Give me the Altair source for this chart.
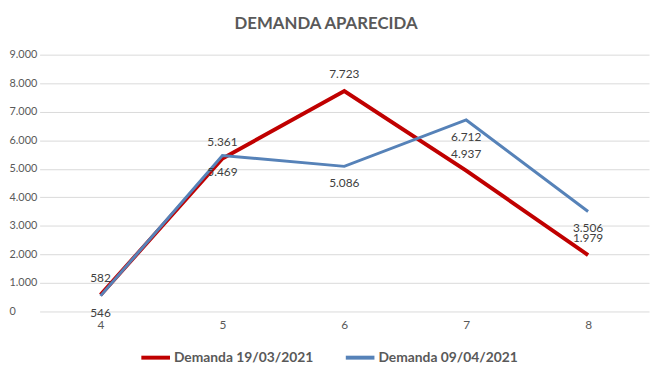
import altair as alt
import pandas as pd

categories = ["4", "5", "6", "7", "8"]
series_names = ["Demanda 19/03/2021", "Demanda 09/04/2021"]
red_values = [582, 5361, 7723, 4937, 1979]
blue_values = [546, 5469, 5086, 6712, 3506]
y_ticks = [0, 1000, 2000, 3000, 4000, 5000, 6000, 7000, 8000, 9000]
title_text = "DEMANDA APARECIDA"

FONT = "Lato"
GREY = "#595959"
RED = "#C00000"
BLUE = "#5682B8"

rows = []
for name, vals in zip(series_names, [red_values, blue_values]):
    for c, v in zip(categories, vals):
        rows.append({"cat": c, "val": v, "serie": name,
                     "lab": f"{v:,}".replace(",", ".")})
df = pd.DataFrame(rows)

x_enc = alt.X("cat:N", sort=categories, title=None,
              scale=alt.Scale(paddingInner=0, paddingOuter=0, align=0.5),
              axis=alt.Axis(labelAngle=0, ticks=False, domain=False, grid=False,
                            labelColor=GREY, labelFont=FONT, labelFontSize=12,
                            labelPadding=8))
y_enc = alt.Y("val:Q", title=None,
              scale=alt.Scale(domain=[0, 9000], nice=False),
              axis=alt.Axis(values=y_ticks, ticks=False, domain=False,
                            gridColor="#D9D9D9", gridWidth=1,
                            labelAlign="left", labelPadding=31,
                            labelColor=GREY, labelFont=FONT, labelFontSize=11,
                            labelExpr="replace(format(datum.value, ','), ',', '.')"))
color_enc = alt.Color("serie:N", title=None,
                      scale=alt.Scale(domain=series_names, range=[RED, BLUE]),
                      legend=alt.Legend(orient="none", direction="horizontal",
                                        legendX=101, legendY=290,
                                        symbolType="stroke", symbolSize=841,
                                        symbolStrokeWidth=4, columnPadding=24,
                                        labelFont=FONT, labelFontSize=14,
                                        labelFontWeight="bold", labelColor=GREY,
                                        labelOffset=2, labelLimit=300))

base = alt.Chart(df)

red_line = base.transform_filter(alt.datum.serie == series_names[0]).mark_line(
    strokeWidth=4).encode(x=x_enc, y=y_enc, color=color_enc)
blue_line = base.transform_filter(alt.datum.serie == series_names[1]).mark_line(
    strokeWidth=3).encode(x=x_enc, y=y_enc, color=color_enc)

red_lab = base.transform_filter(alt.datum.serie == series_names[0]).mark_text(
    dy=-17, font=FONT, fontSize=12, color="#404040").encode(
    x=x_enc, y=y_enc, text="lab:N")
blue_lab = base.transform_filter(alt.datum.serie == series_names[1]).mark_text(
    dy=17, font=FONT, fontSize=12, color="#404040").encode(
    x=x_enc, y=y_enc, text="lab:N")

title_df = pd.DataFrame({"t": [title_text]})
title = alt.Chart(title_df).mark_text(
    font=FONT, fontSize=17, fontWeight="bold", color=GREY, align="center",
    baseline="middle").encode(x=alt.value(290), y=alt.value(-31), text="t:N")

chart = alt.layer(red_line, blue_line, red_lab, blue_lab, title).properties(
    width=617, height=260,
    padding={"left": 32, "top": 45, "right": 2, "bottom": 58},
    autosize=alt.AutoSizeParams(type="none"),
    background="white",
).configure_view(stroke=None)

chart.save("out.html", embed_options={"renderer": "svg", "actions": False})
